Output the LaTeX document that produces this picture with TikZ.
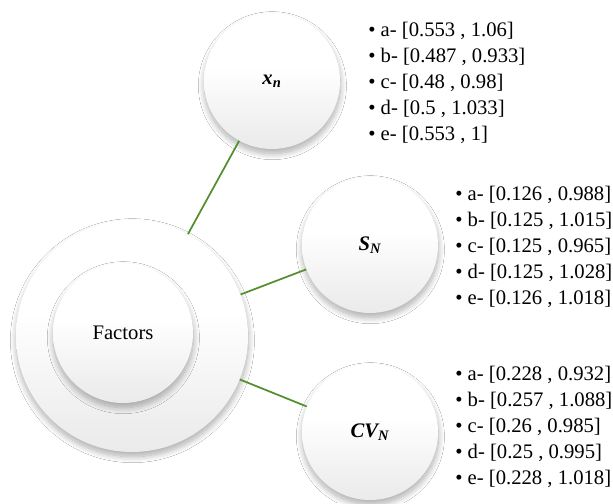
\documentclass[tikz,border=0pt]{standalone}
\usepackage{fontspec}
\setmainfont{Liberation Serif}
\usetikzlibrary{shadows.blur}
\pgfdeclareverticalshading{ballshade}{100bp}{color(0bp)=(black!12); color(30bp)=(black!7); color(55bp)=(white); color(100bp)=(white)}
\definecolor{linkgreen}{RGB}{84,142,46}
\tikzset{
  ball/.style={circle, inner sep=0pt, shading=ballshade, font=\fontsize{15.5}{18}\selectfont,
    blur shadow={shadow xshift=0.3pt, shadow yshift=-3.5pt, shadow blur radius=4.5pt, shadow blur steps=12, shadow opacity=32}},
  link/.style={draw=linkgreen, line width=1.3pt},
  vals/.style={anchor=north west, inner sep=0pt, align=left, font=\fontsize{15.5}{19.5}\selectfont}
}
\begin{document}
\begin{tikzpicture}[x=0.75pt,y=-0.75pt]
\useasboundingbox[fill=white] (0,0) rectangle (613,503);
\node[ball, minimum size=174pt] (outer) at (132,336) {};
\node[ball, minimum size=105pt] (inner) at (123,333) {Factors};
\node[ball, minimum size=102pt] (xn) at (272,81) {\bfseries\itshape x\textsubscript{n}};
\node[ball, minimum size=102pt] (sn) at (370,245) {\bfseries\itshape S\textsubscript{N}};
\node[ball, minimum size=102pt] (cvn) at (370,432) {\bfseries\itshape CV\textsubscript{N}};
\draw[link] (outer) -- (xn);
\draw[link] (outer) -- (sn);
\draw[link] (outer) -- (cvn);
\node[vals] (lxn) at (368,21.5) {• a- [0.553 , 1.06]\\• b- [0.487 , 0.933]\\• c- [0.48 , 0.98]\\• d- [0.5 , 1.033]\\• e- [0.553 , 1]};
\node[vals] (lsn) at (455,185.5) {• a- [0.126 , 0.988]\\• b- [0.125 , 1.015]\\• c- [0.125 , 0.965]\\• d- [0.125 , 1.028]\\• e- [0.126 , 1.018]};
\node[vals] (lcvn) at (455,365.5) {• a- [0.228 , 0.932]\\• b- [0.257 , 1.088]\\• c- [0.26 , 0.985]\\• d- [0.25 , 0.995]\\• e- [0.228 , 1.018]};
\end{tikzpicture}
\end{document}
